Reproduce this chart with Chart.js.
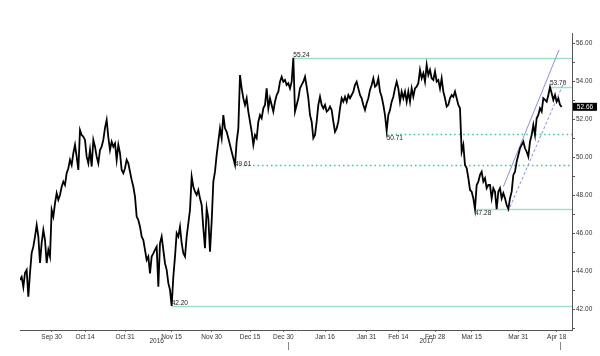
<!DOCTYPE html>
<html><head><meta charset="utf-8">
<script src="https://cdn.jsdelivr.net/npm/chart.js@4.4.1/dist/chart.umd.min.js"></script>
<style>html,body{margin:0;padding:0;background:#fff;}canvas{display:block;}</style>
</head><body>
<canvas id="c" width="600" height="356"></canvas>
<script>
// ---- data ----
const prices = [
43.56,43.72,43.19,43.93,44.09,42.68,43.93,44.98,45.31,45.84,
46.45,45.84,44.45,45.51,46.19,45.66,44.45,45.14,44.79,47.24,
46.89,47.59,48.12,47.77,48.03,48.46,48.73,48.55,49.17,49.43,
49.87,49.60,50.22,50.66,50.04,49.34,51.44,51.18,51.09,50.92,
50.04,49.69,50.39,49.52,50.92,50.57,50.04,49.69,50.39,50.57,
50.92,51.55,51.97,51.05,
50.39,50.83,50.57,50.74,49.87,50.66,50.22,49.34,49.17,49.43,
49.87,49.69,49.25,48.82,48.46,47.94,46.89,46.71,46.36,45.84,
45.66,45.14,44.61,44.79,43.91,44.79,44.96,45.14,45.31,43.21,
45.49,45.84,45.14,44.44,44.09,43.39,43.04,42.20,43.73,44.79,
46.02,45.84,46.36,45.49,44.96,44.79,45.84,46.54,47.24,48.99,48.46,
48.20,48.03,48.29,47.85,47.50,46.28,45.23,47.33,46.80,45.05,
46.63,48.73,49.25,50.13,50.83,51.53,51.01,52.23,51.53,51.35,
51.01,50.66,50.30,49.96,49.61,50.83,51.53,54.33,53.63,53.11,
52.76,53.11,52.41,51.88,51.35,50.66,51.18,51.01,51.88,52.23,
52.06,52.58,52.76,53.63,52.58,53.11,52.76,52.41,52.93,53.28,
53.46,53.98,54.24,53.98,54.07,53.81,53.90,
53.63,53.98,55.24,52.41,52.76,53.11,53.63,53.81,53.98,54.24,
53.72,53.11,52.23,51.88,51.01,51.18,51.88,52.76,53.19,52.76,
52.58,52.76,52.41,52.49,52.67,52.49,51.88,51.35,51.53,51.88,
52.58,53.11,52.93,53.19,52.93,53.28,53.11,53.28,53.46,53.81,
53.98,53.63,53.28,53.11,52.76,52.49,52.85,53.11,53.55,53.81,
54.16,53.72,53.81,54.16,
53.46,53.19,52.76,52.23,51.40,52.23,52.49,52.93,53.19,53.63,
53.98,53.63,52.93,53.46,53.11,53.46,52.93,53.46,52.93,53.63,
53.19,53.63,53.72,53.90,54.60,54.16,54.42,53.98,54.86,54.33,
54.60,54.16,54.07,54.51,53.98,54.07,53.63,54.16,53.46,53.11,
52.67,52.76,53.11,53.28,53.19,53.46,53.11,52.76,52.58,
50.30,50.66,49.60,49.44,48.92,
48.29,48.20,47.85,47.28,48.55,48.73,49.08,49.25,48.73,48.91,
48.38,48.55,48.55,47.85,48.38,48.20,47.28,48.20,48.38,47.85,
48.12,47.85,47.50,47.30,47.85,48.20,49.08,49.25,49.78,50.13,
50.48,50.66,50.83,50.48,50.30,50.04,50.83,51.18,51.71,51.18,
52.06,52.23,52.58,52.41,53.11,53.02,52.93,53.28,53.70,53.37,
53.02,53.28,52.93,53.11,52.76,52.66
];
const tickLabels = ['Sep 30','Oct 14','Oct 31','Nov 15','Nov 30','Dec 15','Dec 30','Jan 16','Jan 31','Feb 14','Feb 28','Mar 15','Mar 31','Apr 18'];
const tickIndex  = [19,39,63,91,115,138,158,183,208,227,249,271,299,322];
const yearLabels = ['2016','2017'];
const yearIndex  = [82,244];
const markerIndex = [161,324];
const levelValues = [55.24,53.70,51.22,49.61,47.28,42.20];
const levelLabels = ['55.24','53.70','50.71','49.61','47.28','42.20'];
const levelStart  = [164,318,220,129,273,91];
const upperTrend = [[290.0,48.46],[323.4,55.65]];
const lowerTrend = [[292.8,47.15],[326.7,54.02]];
const lastPrice = 52.66;
const yMin = 40.93, yMax = 56.54, xMax = 331.2;

// ---- drawing ----
const FONT = '"Liberation Sans", Arial, sans-serif';
const levelStyle = [
  {dash:false, base:'bottom', dy:1},
  {dash:false, base:'bottom', dy:-1},
  {dash:true,  base:'top',    dy:1},
  {dash:true,  base:'middle', dy:-1},
  {dash:false, base:'top',    dy:1},
  {dash:false, base:'bottom', dy:1}
];
const levelsPlugin = {
  id:'levels',
  beforeDatasetsDraw(chart){
    const {ctx, chartArea, scales:{x,y}} = chart;
    ctx.save();
    levelValues.forEach((v,i)=>{
      const py = Math.round(y.getPixelForValue(v))+0.5;
      const px = x.getPixelForValue(levelStart[i]);
      ctx.beginPath();
      if(levelStyle[i].dash){ctx.setLineDash([1.5,3]);ctx.strokeStyle='#3fc98c';ctx.lineWidth=1.3;}
      else {ctx.setLineDash([]);ctx.strokeStyle='#9fe0c6';ctx.lineWidth=1.5;}
      ctx.moveTo(px,py);ctx.lineTo(chartArea.right,py);ctx.stroke();
    });
    ctx.restore();
  },
  afterDatasetsDraw(chart){
    const {ctx, scales:{x,y}} = chart;
    ctx.save();
    ctx.font = '6.5px '+FONT;
    ctx.fillStyle = '#222';
    ctx.textAlign = 'left';
    levelValues.forEach((v,i)=>{
      const py = y.getPixelForValue(v);
      const px = x.getPixelForValue(levelStart[i]);
      ctx.textBaseline = levelStyle[i].base;
      ctx.fillText(levelLabels[i], px, py+levelStyle[i].dy);
    });
    ctx.restore();
  },
  afterDraw(chart){
    const {ctx, chartArea, scales:{x,y}} = chart;
    ctx.save();
    const py = y.getPixelForValue(lastPrice);
    ctx.fillStyle = '#000';
    ctx.fillRect(chartArea.right+1, py-4, 24, 8);
    ctx.fillStyle = '#fff';
    ctx.font = '6.5px '+FONT;
    ctx.textAlign='center'; ctx.textBaseline='middle';
    ctx.fillText(lastPrice.toFixed(2), chartArea.right+13, py+0.5);
    ctx.fillStyle = '#333';
    yearLabels.forEach((t,i)=>{
      ctx.fillText(t, x.getPixelForValue(yearIndex[i]), chartArea.bottom+11.5);
    });
    ctx.strokeStyle='#888'; ctx.lineWidth=1;
    markerIndex.forEach(m=>{
      const px = Math.round(x.getPixelForValue(m))+0.5;
      ctx.beginPath(); ctx.moveTo(px, chartArea.bottom+12); ctx.lineTo(px, chartArea.bottom+20); ctx.stroke();
    });
    ctx.restore();
  }
};

new Chart(document.getElementById('c'), {
  type:'line',
  data:{datasets:[
    {data:prices.map((p,i)=>({x:i,y:p})), borderColor:'#000', borderWidth:1.8, pointRadius:0, tension:0, order:1},
    {data:upperTrend.map(([a,b])=>({x:a,y:b})), borderColor:'#8d91dc', borderWidth:1, pointRadius:0, order:2},
    {data:lowerTrend.map(([a,b])=>({x:a,y:b})), borderColor:'#8d91dc', borderWidth:1, borderDash:[3,2], pointRadius:0, order:3}
  ]},
  options:{
    responsive:false, animation:false, devicePixelRatio:1,
    layout:{padding:{left:20, top:33, right:0, bottom:0}},
    plugins:{legend:{display:false}, tooltip:{enabled:false}},
    scales:{
      x:{type:'linear', min:0, max:xMax, position:'bottom',
        afterBuildTicks:s=>{s.ticks = tickIndex.map(v=>({value:v}));},
        afterFit:s=>{s.height=26;},
        ticks:{autoSkip:false, maxRotation:0, padding:1, color:'#333', font:{family:FONT,size:6.5},
          callback:(v,i)=>tickLabels[i]},
        grid:{drawOnChartArea:false, drawTicks:true, tickLength:2, color:'#777'},
        border:{display:true, color:'#555', width:1}
      },
      y:{type:'linear', position:'right', min:yMin, max:yMax,
        afterFit:s=>{s.width=28;},
        ticks:{stepSize:1, includeBounds:false, autoSkip:false, padding:1, color:'#333', font:{family:FONT,size:6.5},
          callback:v=> (Math.round(v)%2===0 ? Number(v).toFixed(2) : '')},
        grid:{drawOnChartArea:false, tickLength:3, color:'#555'},
        border:{display:true, color:'#555', width:1}
      }
    }
  },
  plugins:[levelsPlugin]
});
</script>
</body></html>
